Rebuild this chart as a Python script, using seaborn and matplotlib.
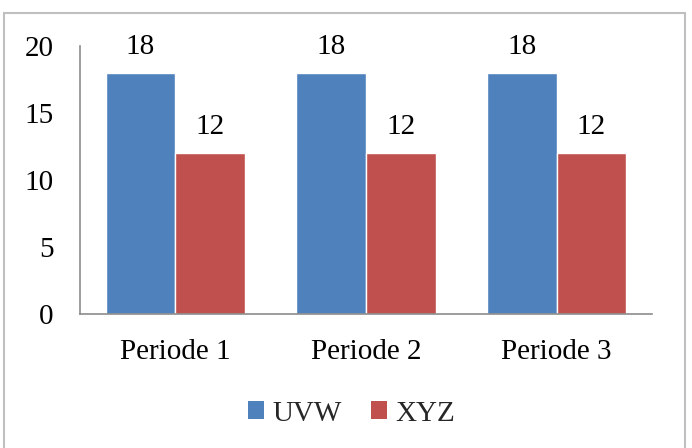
import matplotlib
matplotlib.use("Agg")
import matplotlib.pyplot as plt
import seaborn as sns
import pandas as pd
from matplotlib.patches import Rectangle, Patch

categories = ["Periode 1", "Periode 2", "Periode 3"]
series_names = ["UVW", "XYZ"]
uvw_values = [18, 18, 18]
xyz_values = [12, 12, 12]
y_ticks = [0, 5, 10, 15, 20]
colors = ["#4F81BD", "#C0504D"]

df = pd.DataFrame({
    "Periode": categories * 2,
    "Series": [series_names[0]] * 3 + [series_names[1]] * 3,
    "Value": uvw_values + xyz_values,
})

sns.set_theme(style="white")
plt.rcParams["font.family"] = ["Liberation Serif", "DejaVu Serif"]

fig = plt.figure(figsize=(6.92, 4.48), dpi=100)
ax = fig.add_axes([0.1156, 0.2991, 0.8266, 0.5982])

sns.barplot(data=df, x="Periode", y="Value", hue="Series", palette=colors,
            width=0.73, saturation=1, ax=ax, legend=False, errorbar=None)

for c in ax.containers:
    ax.bar_label(c, labels=[f"{v:g}" for v in c.datavalues], padding=9.5,
                 fontsize=21, color="#000000")

ax.set_xlim(-0.5, 2.5)
ax.set_ylim(0, 20)
ax.set_yticks(y_ticks)
ax.set_yticklabels([str(t) for t in y_ticks])
ax.tick_params(axis="both", length=0, labelsize=21, colors="#000000")
ax.tick_params(axis="y", pad=19)
ax.tick_params(axis="x", pad=18)
ax.set_xlabel("")
ax.set_ylabel("")
for s in ["top", "right"]:
    ax.spines[s].set_visible(False)
for s in ["left", "bottom"]:
    ax.spines[s].set_color("#8c8c8c")
    ax.spines[s].set_linewidth(1.2)

handles = [Patch(facecolor=colors[i], edgecolor="none", label=series_names[i])
           for i in range(2)]
fig.legend(handles=handles, loc="center", bbox_to_anchor=(0.508, 0.077),
           ncol=2, frameon=False, fontsize=21, handlelength=0.55,
           handleheight=0.55, handletextpad=0.3, columnspacing=1.0)

border = Rectangle((4 / 692, -0.05), (685 - 4) / 692, 1.05 - 13 / 448,
                   transform=fig.transFigure, fill=False,
                   edgecolor="#bfbfbf", linewidth=1.5)
fig.patches.append(border)

fig.savefig("out.png", dpi=100)
